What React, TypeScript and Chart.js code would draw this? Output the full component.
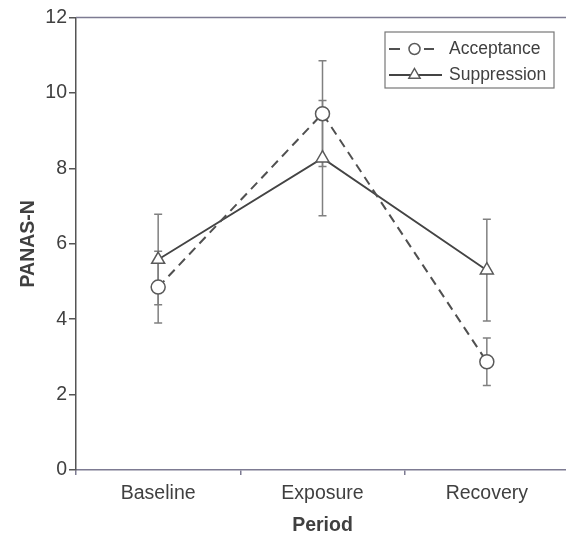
import React, { useEffect, useRef } from "react";
import { Chart, registerables } from "chart.js";

Chart.register(...registerables);

const categories = ["Baseline", "Exposure", "Recovery"];
const acceptanceMean = [4.85, 9.45, 2.87];
const acceptanceErr = [0.95, 1.4, 0.63];
const suppressionMean = [5.58, 8.27, 5.3];
const suppressionErr = [1.2, 1.53, 1.35];
const yMin = 0;
const yMax = 12;
const yStep = 2;
const xTitle = "Period";
const yTitle = "PANAS-N";

const FONT = "'Liberation Sans', Arial, Helvetica, sans-serif";
const TEXT = "#404040";
const AXIS = "#555555";
const FRAME = "#7d7b92";
const CANVAS_W = 578;

const errorBarPlugin = {
  id: "errorBars",
  beforeDatasetsDraw(chart: any) {
    const ctx = chart.ctx;
    const yScale = chart.scales.y;
    ctx.save();
    ctx.strokeStyle = "#808080";
    ctx.lineWidth = 1.5;
    chart.data.datasets.forEach((ds: any, i: number) => {
      const meta = chart.getDatasetMeta(i);
      (ds.errorBars || []).forEach((e: number, j: number) => {
        const pt = meta.data[j];
        if (!pt) return;
        const v = ds.data[j];
        const x = pt.x;
        const yTop = yScale.getPixelForValue(v + e);
        const yBot = yScale.getPixelForValue(v - e);
        ctx.beginPath();
        ctx.moveTo(x, yTop);
        ctx.lineTo(x, yBot);
        ctx.moveTo(x - 4, yTop);
        ctx.lineTo(x + 4, yTop);
        ctx.moveTo(x - 4, yBot);
        ctx.lineTo(x + 4, yBot);
        ctx.stroke();
      });
    });
    ctx.restore();
  },
};

const framePlugin = {
  id: "frameTop",
  afterDraw(chart: any) {
    const { ctx, chartArea } = chart;
    ctx.save();
    ctx.strokeStyle = FRAME;
    ctx.lineWidth = 1.5;
    ctx.beginPath();
    ctx.moveTo(chartArea.left, chartArea.top);
    ctx.lineTo(chartArea.right, chartArea.top);
    ctx.stroke();
    ctx.restore();
  },
};

const boxLegendPlugin = {
  id: "boxLegend",
  afterDraw(chart: any) {
    const { ctx, chartArea } = chart;
    const right = chartArea.right - 15;
    const left = right - 169;
    const top = chartArea.top + 14.5;
    const bottom = top + 56;
    ctx.save();
    ctx.fillStyle = "#ffffff";
    ctx.fillRect(left, top, right - left, bottom - top);
    ctx.strokeStyle = "#777777";
    ctx.lineWidth = 1.2;
    ctx.strokeRect(left, top, right - left, bottom - top);
    chart.data.datasets.forEach((ds: any, i: number) => {
      const y = top + 17 + i * 26;
      const x0 = left + 4;
      const x1 = left + 57;
      const cx = left + 29.5;
      ctx.save();
      ctx.strokeStyle = ds.borderColor;
      ctx.lineWidth = ds.borderWidth;
      ctx.beginPath();
      if (ds.borderDash && ds.borderDash.length) {
        ctx.moveTo(x0, y);
        ctx.lineTo(x0 + 11, y);
        ctx.moveTo(left + 39, y);
        ctx.lineTo(left + 49, y);
      } else {
        ctx.moveTo(x0, y);
        ctx.lineTo(x1, y);
      }
      ctx.stroke();
      ctx.restore();
      ctx.save();
      ctx.strokeStyle = ds.pointBorderColor;
      ctx.fillStyle = "#ffffff";
      ctx.lineWidth = ds.pointBorderWidth;
      ctx.beginPath();
      if (ds.pointStyle === "triangle") {
        const r = 6.5;
        ctx.moveTo(cx, y - r);
        ctx.lineTo(cx + r * 0.866, y + r * 0.5);
        ctx.lineTo(cx - r * 0.866, y + r * 0.5);
        ctx.closePath();
      } else {
        ctx.arc(cx, y, 5.5, 0, Math.PI * 2);
      }
      ctx.fill();
      ctx.stroke();
      ctx.restore();
      ctx.fillStyle = TEXT;
      ctx.font = `17.5px ${FONT}`;
      ctx.textBaseline = "middle";
      ctx.textAlign = "left";
      ctx.fillText(ds.label, left + 64, y);
    });
    ctx.restore();
  },
};

export default function App() {
  const ref = useRef<HTMLCanvasElement>(null);

  useEffect(() => {
    if (!ref.current) return;
    const chart = new Chart(ref.current, {
      type: "line",
      data: {
        labels: categories,
        datasets: [
          {
            label: "Acceptance",
            data: acceptanceMean,
            errorBars: acceptanceErr,
            borderColor: "#505050",
            borderWidth: 2,
            borderDash: [9, 6],
            pointStyle: "circle",
            pointRadius: 7,
            pointBackgroundColor: "#ffffff",
            pointBorderColor: "#5a5a5a",
            pointBorderWidth: 1.5,
            fill: false,
            tension: 0,
          } as any,
          {
            label: "Suppression",
            data: suppressionMean,
            errorBars: suppressionErr,
            borderColor: "#444444",
            borderWidth: 1.8,
            borderDash: [],
            pointStyle: "triangle",
            pointRadius: 7.5,
            pointBackgroundColor: "#ffffff",
            pointBorderColor: "#5a5a5a",
            pointBorderWidth: 1.5,
            fill: false,
            tension: 0,
          } as any,
        ],
      },
      options: {
        responsive: false,
        animation: false,
        layout: { padding: { top: 17.5, right: 0, left: 0, bottom: 0 } },
        plugins: {
          legend: { display: false },
          tooltip: { enabled: false },
        },
        scales: {
          x: {
            type: "category",
            offset: true,
            afterFit: (s: any) => {
              s.height = 64;
              s.paddingRight = 0;
              s.paddingLeft = 0;
            },
            grid: {
              offset: true,
              drawOnChartArea: false,
              drawTicks: true,
              tickLength: 5,
              color: FRAME,
              lineWidth: 1.5,
            },
            border: { display: true, color: FRAME, width: 1.5 },
            ticks: {
              color: TEXT,
              padding: 7,
              font: { family: FONT, size: 19.5 },
            },
            title: {
              display: true,
              text: xTitle,
              color: TEXT,
              padding: { top: 0, bottom: -1.5 },
              font: { family: FONT, size: 19.5, weight: "bold", lineHeight: 1 },
            },
          },
          y: {
            min: yMin,
            max: yMax,
            afterFit: (s: any) => {
              s.width = 76;
            },
            grid: {
              drawOnChartArea: false,
              drawTicks: true,
              tickLength: 7,
              color: AXIS,
              lineWidth: 1.5,
            },
            border: { display: true, color: AXIS, width: 1.5 },
            ticks: {
              stepSize: yStep,
              color: TEXT,
              padding: 2,
              font: { family: FONT, size: 19.5 },
            },
            title: {
              display: true,
              text: yTitle,
              color: TEXT,
              padding: { top: 17, bottom: 0 },
              font: { family: FONT, size: 19.5, weight: "bold", lineHeight: 1.2 },
            },
          },
        },
      },
      plugins: [errorBarPlugin, framePlugin, boxLegendPlugin],
    });
    return () => chart.destroy();
  }, []);

  return (
    <div
      style={{
        position: "fixed",
        left: 0,
        top: 0,
        width: 566,
        height: 534,
        overflow: "hidden",
        background: "#ffffff",
      }}
    >
      <canvas
        ref={ref}
        width={CANVAS_W}
        height={534}
        style={{ display: "block", width: CANVAS_W, height: 534 }}
      />
    </div>
  );
}
